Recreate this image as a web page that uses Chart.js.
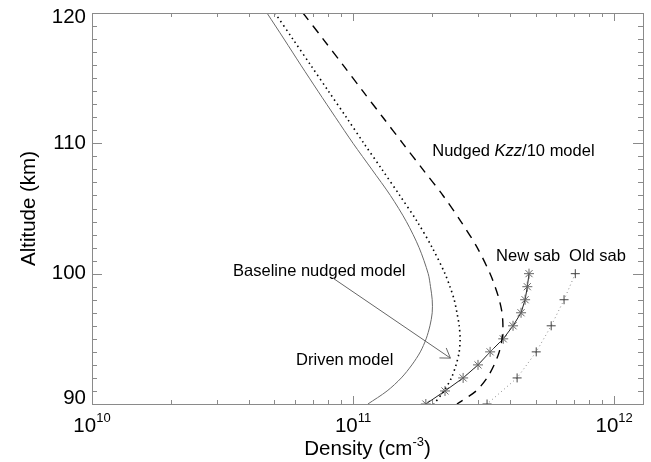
<!DOCTYPE html>
<html>
<head>
<meta charset="utf-8">
<script src="https://cdn.jsdelivr.net/npm/chart.js@4.4.0/dist/chart.umd.min.js"></script>
<style>
  html, body { margin: 0; padding: 0; background: #fff; }
  #wrap { width: 651px; height: 462px; position: relative; }
</style>
</head>
<body>
<div id="wrap"><canvas id="chart"></canvas></div>
<script>
// Model profiles, density (cm-3) against altitude (km)
const modelAltitudes = [120, 118, 116, 114, 112, 110, 108, 106, 104, 102, 100, 99, 98, 97, 96, 95, 94, 93, 92, 91, 90];
const drivenDensity = [4.68e10, 5.44e10, 6.31e10, 7.34e10, 8.56e10, 1.00e11, 1.18e11, 1.39e11, 1.60e11, 1.79e11,
  1.94e11, 1.98e11, 2.01e11, 2.01e11, 1.97e11, 1.905e11, 1.81e11, 1.68e11, 1.53e11, 1.35e11, 1.14e11];
const baselineDensity = [5.02e10, 5.88e10, 6.88e10, 8.05e10, 9.42e10, 1.10e11, 1.29e11, 1.51e11, 1.76e11, 2.01e11,
  2.25e11, 2.35e11, 2.44e11, 2.50e11, 2.55e11, 2.57e11, 2.55e11, 2.48e11, 2.38e11, 2.23e11, 2.04e11];
const kzzDensity = [6.43e10, 7.68e10, 9.16e10, 1.09e11, 1.30e11, 1.55e11, 1.85e11, 2.21e11, 2.59e11, 2.99e11,
  3.35e11, 3.50e11, 3.63e11, 3.72e11, 3.75e11, 3.72e11, 3.63e11, 3.47e11, 3.26e11, 2.96e11, 2.50e11];

// Sodium layer profiles
const newSabAltitudes = [100, 99, 98, 97, 96, 95, 94, 93, 92, 91, 90];
const newSabDensity = [4.72e11, 4.65e11, 4.56e11, 4.40e11, 4.10e11, 3.76e11, 3.35e11, 3.01e11, 2.64e11, 2.25e11, 1.90e11];
const oldSabAltitudes = [100, 98, 96, 94, 92, 90];
const oldSabDensity = [7.10e11, 6.43e11, 5.74e11, 5.03e11, 4.25e11, 3.26e11];

// Axes
const xMin = 1e10, xMax = 1.29e12;
const yMin = 90, yMax = 120;
const xMajorTicks = [1e10, 1e11, 1e12];
const xTickExponents = ['10', '11', '12'];
const yMajorTicks = [90, 100, 110, 120];

const axisColor = '#8a8a8a';
const FONT = '"Liberation Sans", Arial, sans-serif';

function toPoints(xs, ys) {
  return xs.map((v, i) => ({ x: v, y: ys[i] }));
}

// Frame with inward ticks on all four sides, plus the tick labels and titles
const frameAndTicks = {
  id: 'frameAndTicks',
  afterDatasetsDraw(chart) {
    const { ctx, chartArea: a, scales: { x, y } } = chart;
    ctx.save();
    ctx.strokeStyle = axisColor;
    ctx.lineWidth = 1;
    ctx.strokeRect(Math.round(a.left) + 0.5, Math.round(a.top) + 0.5,
      Math.round(a.right - a.left), Math.round(a.bottom - a.top));

    ctx.beginPath();
    // density ticks, 1..9 in each decade
    for (let d = 10; d <= 12; d++) {
      for (let m = 1; m <= 9; m++) {
        const v = m * Math.pow(10, d);
        if (v > xMax) break;
        const px = Math.round(x.getPixelForValue(v)) + 0.5;
        const len = m === 1 ? 8 : 4;
        ctx.moveTo(px, a.bottom); ctx.lineTo(px, a.bottom - len);
        ctx.moveTo(px, a.top); ctx.lineTo(px, a.top + len);
      }
    }
    // altitude ticks every km
    for (let h = yMin; h <= yMax; h++) {
      const py = Math.round(y.getPixelForValue(h)) + 0.5;
      const len = h % 10 === 0 ? 10 : 5;
      ctx.moveTo(a.left, py); ctx.lineTo(a.left + len, py);
      ctx.moveTo(a.right, py); ctx.lineTo(a.right - len, py);
    }
    ctx.stroke();

    ctx.fillStyle = '#000';
    // y tick labels
    ctx.font = '20.5px ' + FONT;
    ctx.textAlign = 'right';
    ctx.textBaseline = 'middle';
    yMajorTicks.forEach(t => {
      let py = y.getPixelForValue(t);
      py = Math.min(Math.max(py, a.top + 4), a.bottom - 6);
      ctx.fillText(String(t), a.left - 6, py);
    });

    // x tick labels as 10 with a raised exponent
    ctx.textBaseline = 'alphabetic';
    ctx.textAlign = 'left';
    xMajorTicks.forEach((t, i) => {
      const px = x.getPixelForValue(t);
      ctx.font = '20.5px ' + FONT;
      const wBase = ctx.measureText('10').width;
      ctx.font = '13px ' + FONT;
      const wExp = ctx.measureText(xTickExponents[i]).width;
      const left = px - (wBase + wExp) / 2;
      ctx.font = '20.5px ' + FONT;
      ctx.fillText('10', left, a.bottom + 28);
      ctx.font = '13px ' + FONT;
      ctx.fillText(xTickExponents[i], left + wBase, a.bottom + 18);
    });

    // x title: Density (cm^-3)
    const cx = (a.left + a.right) / 2;
    ctx.font = '20.5px ' + FONT;
    const w1 = ctx.measureText('Density (cm').width;
    const w3 = ctx.measureText(')').width;
    ctx.font = '13px ' + FONT;
    const w2 = ctx.measureText('-3').width;
    let tx = cx - (w1 + w2 + w3) / 2;
    const base = a.bottom + 51;
    ctx.font = '20.5px ' + FONT;
    ctx.fillText('Density (cm', tx, base);
    ctx.font = '13px ' + FONT;
    ctx.fillText('-3', tx + w1, base - 9);
    ctx.font = '20.5px ' + FONT;
    ctx.fillText(')', tx + w1 + w2, base);

    // y title
    ctx.save();
    ctx.translate(29, (a.top + a.bottom) / 2);
    ctx.rotate(-Math.PI / 2);
    ctx.textAlign = 'center';
    ctx.textBaseline = 'middle';
    ctx.fillText('Altitude (km)', 0, 0);
    ctx.restore();

    ctx.restore();
  }
};

// Curve labels and the arrow, placed in data coordinates
const curveLabels = {
  id: 'curveLabels',
  afterDatasetsDraw(chart) {
    const { ctx, scales: { x, y } } = chart;
    ctx.save();
    ctx.fillStyle = '#000';
    ctx.textAlign = 'left';
    ctx.textBaseline = 'alphabetic';
    const norm = '16.5px ' + FONT;
    const ital = 'italic 16.5px ' + FONT;

    const put = (text, dx, dy, font) => {
      ctx.font = font || norm;
      ctx.fillText(text, x.getPixelForValue(dx), y.getPixelForValue(dy));
    };
    put('Baseline nudged model', 3.47e10, 99.82);
    put('Driven model', 6.05e10, 92.99);
    put('New sab', 3.53e11, 100.97);
    put('Old sab', 6.72e11, 100.97);

    // Nudged Kzz/10 model, with Kzz in italics
    let px = x.getPixelForValue(2.01e11);
    const py = y.getPixelForValue(109.03);
    ctx.font = norm;
    ctx.fillText('Nudged ', px, py);
    px += ctx.measureText('Nudged ').width;
    ctx.font = ital;
    ctx.fillText('Kzz', px, py);
    px += ctx.measureText('Kzz').width;
    ctx.font = norm;
    ctx.fillText('/10 model', px, py);

    // arrow from the baseline label to its curve
    const x0 = x.getPixelForValue(8.37e10), y0 = y.getPixelForValue(99.66);
    const x1 = x.getPixelForValue(2.36e11), y1 = y.getPixelForValue(93.52);
    const ang = Math.atan2(y0 - y1, x0 - x1);
    const head = 11, spread = 0.58;
    ctx.strokeStyle = '#666';
    ctx.lineWidth = 1;
    ctx.beginPath();
    ctx.moveTo(x0, y0); ctx.lineTo(x1, y1);
    ctx.moveTo(x1 + head * Math.cos(ang - spread), y1 + head * Math.sin(ang - spread));
    ctx.lineTo(x1, y1);
    ctx.lineTo(x1 + head * Math.cos(ang + spread), y1 + head * Math.sin(ang + spread));
    ctx.stroke();
    ctx.restore();
  }
};

new Chart(document.getElementById('chart'), {
  type: 'scatter',
  data: {
    datasets: [
      {
        label: 'Driven model',
        data: toPoints(drivenDensity, modelAltitudes),
        showLine: true, borderColor: '#6a6a6a', borderWidth: 1,
        pointRadius: 0, tension: 0.3
      },
      {
        label: 'Baseline nudged model',
        data: toPoints(baselineDensity, modelAltitudes),
        showLine: true, borderColor: '#000', borderWidth: 1.6, borderDash: [1.5, 3.5],
        pointRadius: 0, tension: 0.3
      },
      {
        label: 'Nudged Kzz/10 model',
        data: toPoints(kzzDensity, modelAltitudes),
        showLine: true, borderColor: '#000', borderWidth: 1.4, borderDash: [9, 7],
        pointRadius: 0, tension: 0.3
      },
      {
        label: 'New sab',
        data: toPoints(newSabDensity, newSabAltitudes),
        showLine: true, borderColor: '#222', borderWidth: 1,
        pointStyle: 'star', pointRadius: 5, pointBorderColor: '#666', pointBorderWidth: 1,
        pointBackgroundColor: '#666', clip: 0
      },
      {
        label: 'Old sab',
        data: toPoints(oldSabDensity, oldSabAltitudes),
        showLine: true, borderColor: '#8a8a8a', borderWidth: 1, borderDash: [1, 3],
        pointStyle: 'cross', pointRadius: 4.5, pointBorderColor: '#444', pointBorderWidth: 1,
        clip: 0
      }
    ]
  },
  options: {
    responsive: true,
    maintainAspectRatio: false,
    animation: false,
    layout: { padding: { left: 92, right: 8, top: 13, bottom: 58 } },
    plugins: {
      legend: { display: false },
      tooltip: { enabled: false }
    },
    scales: {
      x: { type: 'logarithmic', min: xMin, max: xMax, display: false, bounds: 'data' },
      y: { type: 'linear', min: yMin, max: yMax, display: false }
    }
  },
  plugins: [frameAndTicks, curveLabels]
});
</script>
</body>
</html>
